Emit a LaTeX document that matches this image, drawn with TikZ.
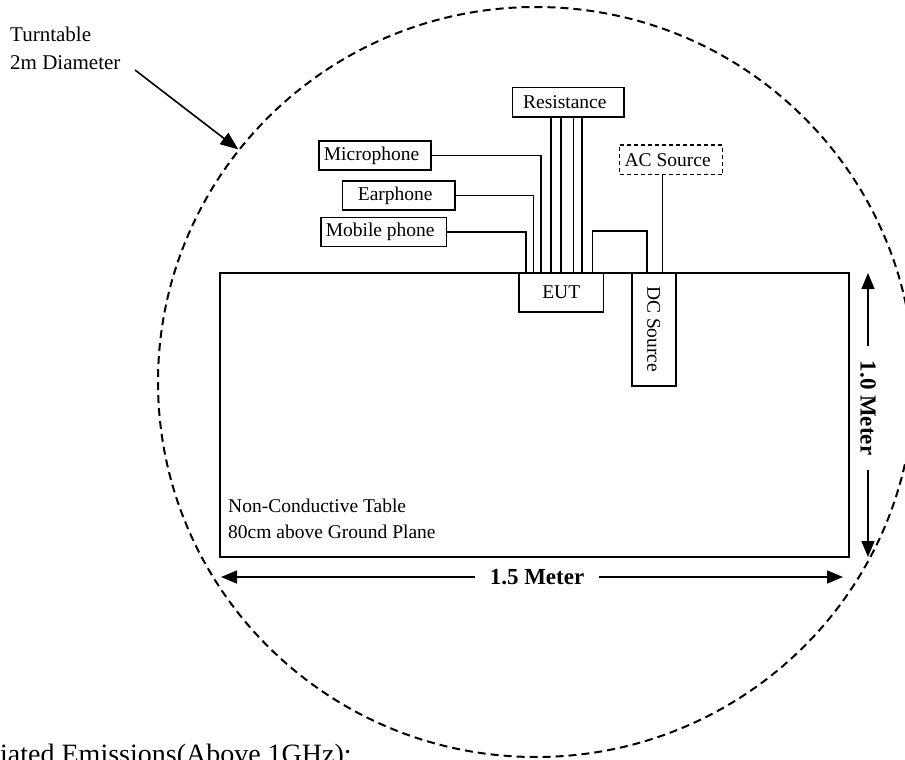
\documentclass[tikz,border=0pt]{standalone}
\usepackage{fontspec}
\setmainfont{Liberation Serif}
\usetikzlibrary{arrows.meta,shapes.geometric}
\begin{document}
\begin{tikzpicture}[x=1pt,y=-1pt,
  lbl/.style={draw, line width=1.7pt, inner sep=0pt, anchor=north west,
    font=\fontsize{19.5}{22}\selectfont, execute at begin node=\kern-7pt},
  wire/.style={line width=1.6pt},
  txt/.style={inner sep=0pt, anchor=base west, font=\fontsize{19.5}{22}\selectfont},
  dim/.style={line width=1.6pt, -{Triangle[length=16pt,width=13pt]}},
  dimtxt/.style={font=\bfseries\fontsize{23}{26}\selectfont, inner xsep=15pt, inner ysep=2pt}
]
\useasboundingbox (0,0) rectangle (905,760);

% turntable
\node[draw, ellipse, line width=2pt, dash pattern=on 8pt off 5pt, inner sep=0pt,
  minimum width=756, minimum height=750] (ring) at (536,382) {};

% table
\node[draw, line width=2.4pt, inner sep=0pt, anchor=north west,
  minimum width=629, minimum height=284] (table) at (219,272) {};
\node[txt] (nct) at (228,512) {Non-Conductive Table};
\node[txt] (gp) at (228,538) {80cm above Ground Plane};

% boxes
\node[lbl, minimum width=111.6, minimum height=29.3] (res) at (511.7,86.7) {Resistance};
\node[lbl, minimum width=111.7, minimum height=29.3] (mic) at (318.3,140) {Microphone};
\node[lbl, minimum width=112.3, minimum height=29.3] (ear) at (341.7,180) {Earphone};
\node[lbl, minimum width=125.7, minimum height=29] (mob) at (320,216.7) {Mobile phone};
\node[lbl, line width=1.3pt, dash pattern=on 4pt off 3pt, minimum width=103, minimum height=29.7] (ac) at (619,144.3) {AC Source};
\node[draw, line width=1.5pt, fill=white, inner sep=0pt, anchor=north west,
  minimum width=84.4, minimum height=38.3, font=\fontsize{19.5}{22}\selectfont] (eut) at (518.3,272.7) {EUT};
\node[draw, line width=1.7pt, fill=white, inner sep=0pt, rotate=-90,
  minimum width=113, minimum height=44.3, font=\fontsize{19.5}{22}\selectfont] (dc) at (653.85,329.2) {DC Source};

% wires
\draw[wire] (mob.east) -| ([xshift=7.7pt]eut.north west);
\draw[wire] (ear.east) -| ([xshift=15pt]eut.north west);
\draw[wire] (mic.east) -| ([xshift=22.7pt]eut.north west);
\foreach \dx in {39,49.3,61.6,70}{
  \draw[wire] ([xshift=\dx pt]res.south west) -- ([xshift=\dx pt]res.south west |- eut.north);
}
\coordinate (dcin) at (646.7,272.7);
\draw[wire] ([xshift=74pt]eut.north west) -- ++(0,-41.5) -| (dcin);
\draw[wire] ([xshift=-8.8pt]ac.south) -- ([xshift=-8.8pt]ac.south |- table.north);

% turntable label
\node[txt, font=\fontsize{21}{24}\selectfont] (tt) at (10,41.5) {Turntable};
\node[txt, font=\fontsize{21}{24}\selectfont] (tt2) at (10,70) {2m Diameter};
\coordinate (ttstart) at (135,70);
\draw[line width=1.6pt, -{Triangle[length=18pt,width=14pt]}] (ttstart) -- (ring.142.4);

% dimensions
\node[dimtxt] (w) at (537,577) {1.5 Meter};
\coordinate (wl) at (221,577);
\coordinate (wr) at (843,577);
\draw[dim] (w.west) -- (wl);
\draw[dim] (w.east) -- (wr);
\node[dimtxt, rotate=-90] (h) at (868,408) {1.0 Meter};
\coordinate (ht) at (868,273);
\coordinate (hb) at (868,557);
\draw[dim] (h.west) -- (ht);
\draw[dim] (h.east) -- (hb);

% caption (cut off)
\node[anchor=base west, inner sep=0pt, font=\fontsize{28}{30}\selectfont] (cap) at (0,763) {iated Emissions(Above 1GHz):};
\end{tikzpicture}
\end{document}
